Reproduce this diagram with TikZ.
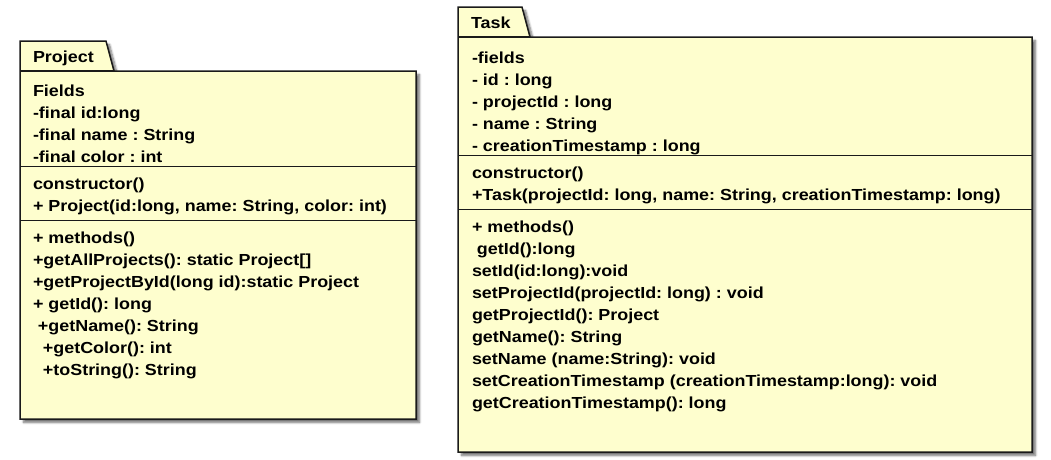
\documentclass[tikz,border=0pt]{standalone}
\usepackage{fontspec}
\setmainfont{Liberation Sans}[FakeStretch=1.12]
\usetikzlibrary{shadows.blur}
\definecolor{pkgyellow}{HTML}{FEFECE}
\definecolor{pkgline}{HTML}{1A1A1A}

\begin{document}
\begin{tikzpicture}
[x=1pt, y=-1pt, line width=1.5pt, font=\fontsize{16}{19}\selectfont\bfseries\frenchspacing,
pkg/.style={draw=pkgline, fill=pkgyellow, line join=miter,
  blur shadow={shadow xshift=3.5pt, shadow yshift=-3.5pt, shadow blur steps=6, shadow opacity=55}},
divider/.style={draw=pkgline, line width=1pt},
member/.style={anchor=base west, inner sep=0pt, outer sep=0pt}]

\useasboundingbox (0,0) rectangle (1051,459);

% Project package
\path[pkg] (20,41) -- (106,41) -- (114,71) -- (416,71) -- (416,419) -- (20,419) -- cycle;
\draw[pkgline] (20,71) -- (114,71);
\node[member] (projname) at (33,62) {Project};

\node[member] (pf0) at (33,96) {Fields};
\node[member] (pf1) at (33,118) {-final id:long};
\node[member] (pf2) at (33,140) {-final name : String};
\node[member] (pf3) at (33,162) {-final color : int};
\draw[divider] (20,166) -- (416,166);

\node[member] (pc0) at (33,189) {constructor()};
\node[member] (pc1) at (33,211) {+ Project(id:long, name: String, color: int)};
\draw[divider] (20,220) -- (416,220);

\node[member] (pm0) at (33,243) {+ methods()};
\node[member] (pm1) at (33,265) {+getAllProjects(): static Project[]};
\node[member] (pm2) at (33,287) {+getProjectById(long id):static Project};
\node[member] (pm3) at (33,309) {+ getId(): long};
\node[member] (pm4) at (33,331) {\ +getName(): String};
\node[member] (pm5) at (33,353) {\ \ +getColor(): int};
\node[member] (pm6) at (33,375) {\ \ +toString(): String};

% Task package
\path[pkg] (458,7) -- (522,7) -- (530,37) -- (1032,37) -- (1032,452) -- (458,452) -- cycle;
\draw[pkgline] (458,37) -- (530,37);
\node[member] (taskname) at (471,28) {Task};

\node[member] (tf0) at (472,63) {-fields};
\node[member] (tf1) at (472,85) {- id : long};
\node[member] (tf2) at (472,107) {- projectId : long};
\node[member] (tf3) at (472,129) {- name : String};
\node[member] (tf4) at (472,151) {- creationTimestamp : long};
\draw[divider] (458,155) -- (1032,155);

\node[member] (tc0) at (472,178) {constructor()};
\node[member] (tc1) at (472,200) {+Task(projectId: long, name: String, creationTimestamp: long)};
\draw[divider] (458,209) -- (1032,209);

\node[member] (tm0) at (472,232) {+ methods()};
\node[member] (tm1) at (472,254) {\ getId():long};
\node[member] (tm2) at (472,276) {setId(id:long):void};
\node[member] (tm3) at (472,298) {setProjectId(projectId: long) : void};
\node[member] (tm4) at (472,320) {getProjectId(): Project};
\node[member] (tm5) at (472,342) {getName(): String};
\node[member] (tm6) at (472,364) {setName (name:String): void};
\node[member] (tm7) at (472,386) {setCreationTimestamp (creationTimestamp:long): void};
\node[member] (tm8) at (472,408) {getCreationTimestamp(): long};
\end{tikzpicture}
\end{document}
